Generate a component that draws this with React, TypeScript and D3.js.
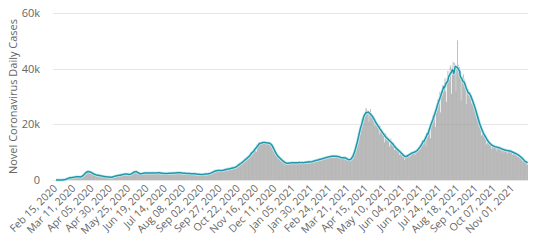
import React from "react";
import * as d3 from "d3";

// ---- tick labels ----
const yTickValues = [0, 20, 40, 60]; // thousands
const yTickLabels = ["0", "20k", "40k", "60k"];
const xTickLabels = [
  "Feb 15, 2020", "Mar 11, 2020", "Apr 05, 2020", "Apr 30, 2020", "May 25, 2020",
  "Jun 19, 2020", "Jul 14, 2020", "Aug 08, 2020", "Sep 02, 2020", "Sep 27, 2020",
  "Oct 22, 2020", "Nov 16, 2020", "Dec 11, 2020", "Jan 05, 2021", "Jan 30, 2021",
  "Feb 24, 2021", "Mar 21, 2021", "Apr 15, 2021", "May 10, 2021", "Jun 04, 2021",
  "Jun 29, 2021", "Jul 24, 2021", "Aug 18, 2021", "Sep 12, 2021", "Oct 07, 2021",
  "Nov 01, 2021",
];

// ---- daily cases (thousands), one array per month ----
const casesFeb2020 = [0, 0, 0, 0, 0.002, 0.003, 0.013, 0.01, 0.015, 0.018, 0.034, 0.044, 0.106, 0.143, 0.205];
const casesMar2020 = [0.39, 0.52, 0.84, 0.59, 0.59, 1.23, 1.08, 0.74, 0.6, 0.88, 0.96, 1.08, 1.29, 1.37, 1.21, 1.05, 1.18, 1.19, 1.05, 1.24, 0.97, 1.03, 1.41, 1.76, 2.21, 2.39, 2.93, 3.08, 2.9, 3.19, 3.11];
const casesApr2020 = [2.99, 2.88, 2.72, 2.56, 2.48, 2.27, 2.09, 2.0, 1.63, 1.97, 1.84, 1.66, 1.62, 1.57, 1.51, 1.61, 1.5, 1.37, 1.34, 1.29, 1.3, 1.19, 1.03, 1.17, 1.13, 1.15, 0.99, 1.11, 1.07, 0.99];
const casesMay2020 = [1.01, 0.8, 0.98, 1.22, 1.32, 1.68, 1.49, 1.56, 1.53, 1.38, 1.68, 1.48, 2.29, 1.81, 1.76, 1.81, 1.84, 2.01, 2.11, 2.35, 2.39, 2.1, 2.18, 1.87, 1.79, 1.82, 2.08, 1.97, 2.28, 2.82, 2.52];
const casesJun2020 = [2.98, 3.12, 3.13, 3.57, 2.89, 2.6, 2.36, 2.1, 2.01, 2.18, 2.24, 2.37, 2.41, 2.47, 2.45, 2.61, 2.56, 2.6, 2.62, 2.32, 2.37, 2.57, 2.53, 2.45, 2.6, 2.63, 2.49, 2.54, 2.46, 2.49];
const casesJul2020 = [2.5, 2.6, 2.6, 2.6, 2.6, 2.6, 2.6, 2.7, 2.2, 2.4, 2.3, 2.2, 2.3, 2.5, 2.5, 2.4, 2.4, 2.2, 2.2, 2.4, 2.6, 2.6, 2.6, 2.3, 2.3, 2.4, 2.5, 2.7, 2.6, 2.7, 2.6];
const casesAug2020 = [2.7, 2.5, 2.5, 2.6, 2.7, 2.6, 2.5, 2.3, 2.4, 2.0, 2.4, 2.5, 2.6, 2.3, 2.1, 2.2, 2.1, 2.4, 2.4, 2.4, 2.4, 2.1, 2.1, 2.0, 2.3, 2.3, 2.1, 2.0, 1.9, 1.9, 2.1];
const casesSep2020 = [2.0, 1.8, 1.9, 2.2, 2.0, 2.1, 2.1, 2.3, 2.4, 2.1, 2.1, 2.1, 2.3, 2.5, 2.6, 2.9, 3.0, 3.1, 3.0, 3.1, 3.3, 3.5, 3.7, 3.7, 3.2, 3.4, 3.2, 3.2, 3.3, 3.7];
const casesOct2020 = [3.5, 3.7, 3.5, 3.5, 3.8, 3.9, 4.0, 4.4, 4.1, 3.9, 3.6, 4.0, 4.2, 4.8, 4.8, 4.5, 4.2, 4.3, 4.3, 5.0, 5.6, 5.6, 6.1, 5.7, 5.6, 6.0, 6.2, 6.8, 7.0, 7.8, 6.9];
const casesNov2020 = [7.1, 7.7, 8.0, 8.1, 8.9, 8.9, 9.2, 8.6, 9.2, 10.7, 11.2, 10.7, 10.5, 11.2, 10.1, 12.9, 12.6, 13.4, 13.0, 13.1, 13.1, 13.1, 13.5, 13.6, 13.7, 13.4, 13.8, 13.3, 13.3, 13.0];
const casesDec2020 = [13.4, 13.2, 13.3, 13.5, 13.1, 12.8, 12.4, 11.8, 11.0, 10.5, 10.0, 9.4, 9.0, 8.6, 8.3, 8.1, 7.9, 7.6, 7.5, 7.3, 7.0, 6.6, 6.4, 6.2, 6.1, 6.0, 5.8, 5.9, 6.1, 6.2, 6.1];
const casesJan2021 = [6.3, 6.1, 5.9, 6.2, 6.3, 6.3, 6.2, 6.1, 6.0, 6.2, 6.4, 6.3, 6.2, 6.4, 6.3, 6.1, 6.0, 6.3, 6.4, 6.3, 6.2, 6.1, 6.5, 6.6, 6.4, 6.5, 6.4, 6.6, 6.7, 6.5, 6.3];
const casesFeb2021 = [6.6, 6.9, 7.0, 7.2, 7.1, 6.9, 7.2, 7.1, 7.3, 7.5, 7.6, 7.8, 7.4, 7.3, 7.7, 7.9, 8.1, 8.4, 8.2, 8.0, 7.7, 8.3, 8.4, 8.5, 8.9, 8.7, 8.4, 8.1];
const casesMar2021 = [8.5, 8.6, 8.8, 8.4, 8.7, 8.6, 8.2, 8.1, 8.5, 8.4, 8.0, 8.0, 7.7, 7.6, 7.9, 8.4, 8.5, 7.8, 7.6, 7.3, 6.9, 7.0, 7.4, 7.1, 7.6, 7.9, 8.2, 8.9, 9.6, 10.2, 11.5];
const casesApr2021 = [12.6, 13.9, 14.7, 15.8, 16.2, 18.0, 19.7, 20.9, 22.0, 21.1, 21.4, 23.6, 24.8, 25.9, 25.3, 24.1, 24.7, 21.0, 24.4, 25.5, 24.0, 23.5, 23.2, 21.8, 19.4, 22.1, 21.8, 20.9, 20.5, 19.2];
const casesMay2021 = [19.0, 16.4, 19.5, 19.2, 18.0, 17.4, 16.8, 16.3, 13.5, 16.7, 16.8, 15.9, 14.8, 14.5, 14.2, 12.0, 14.6, 14.9, 13.8, 13.4, 12.6, 12.1, 10.8, 12.4, 12.0, 11.5, 11.1, 10.8, 10.2, 9.0, 10.6];
const casesJun2021 = [10.3, 9.8, 9.3, 8.9, 8.6, 7.2, 8.4, 8.9, 8.5, 8.7, 9.0, 9.4, 8.1, 9.8, 10.0, 9.7, 9.9, 10.1, 10.4, 8.8, 10.2, 10.6, 10.9, 11.2, 11.0, 11.6, 10.9, 12.5, 12.8, 13.4];
const casesJul2021 = [13.9, 14.3, 14.6, 15.8, 12.1, 16.0, 17.4, 17.6, 18.2, 19.6, 15.0, 20.3, 21.0, 23.1, 22.8, 23.2, 24.9, 19.1, 26.0, 27.1, 28.9, 28.4, 29.0, 31.7, 24.3, 31.2, 32.0, 34.1, 34.0, 34.8, 36.6];
const casesAug2021 = [31.8, 28.0, 36.8, 39.2, 38.0, 36.1, 40.5, 41.2, 31.0, 40.3, 42.5, 39.8, 42.1, 39.4, 32.0, 40.0, 50.2, 41.4, 39.0, 40.6, 36.8, 28.5, 37.1, 37.2, 38.0, 36.4, 35.8, 34.9, 27.2, 33.1, 31.5];
const casesSep2021 = [32.5, 31.8, 31.5, 30.8, 27.5, 29.6, 28.4, 28.0, 27.2, 26.4, 25.6, 22.5, 23.4, 22.6, 21.6, 20.8, 20.1, 19.4, 16.0, 18.2, 17.4, 16.9, 16.4, 15.9, 15.3, 12.8, 14.8, 14.2, 13.8, 13.4];
const casesOct2021 = [13.1, 12.8, 11.0, 12.7, 12.4, 12.2, 12.5, 12.1, 11.9, 10.3, 12.0, 11.8, 12.1, 11.6, 11.7, 11.3, 9.8, 11.4, 11.1, 10.9, 11.2, 10.8, 10.7, 9.4, 10.6, 10.9, 10.7, 10.5, 10.8, 10.3, 9.0];
const casesNov2021 = [10.0, 9.9, 10.1, 9.7, 9.6, 9.8, 8.3, 9.1, 8.9, 8.7, 8.8, 8.5, 8.1, 6.9, 7.5, 7.3, 7.0, 6.7, 6.4, 6.1, 5.5];

const monthStarts = [
  "2020-02-15", "2020-03-01", "2020-04-01", "2020-05-01", "2020-06-01", "2020-07-01",
  "2020-08-01", "2020-09-01", "2020-10-01", "2020-11-01", "2020-12-01", "2021-01-01",
  "2021-02-01", "2021-03-01", "2021-04-01", "2021-05-01", "2021-06-01", "2021-07-01",
  "2021-08-01", "2021-09-01", "2021-10-01", "2021-11-01",
];
const monthValues = [
  casesFeb2020, casesMar2020, casesApr2020, casesMay2020, casesJun2020, casesJul2020,
  casesAug2020, casesSep2020, casesOct2020, casesNov2020, casesDec2020, casesJan2021,
  casesFeb2021, casesMar2021, casesApr2021, casesMay2021, casesJun2021, casesJul2021,
  casesAug2021, casesSep2021, casesOct2021, casesNov2021,
];

const W = 535;
const H = 250;
const plotLeft = 53;
const plotRight = 528;
const plotTop = 13;
const plotBottom = 180;

const parseDay = d3.utcParse("%Y-%m-%d");
const parseTick = d3.utcParse("%b %d, %Y");

export default function App() {
  const daily: { date: Date; v: number }[] = [];
  monthStarts.forEach((s, mi) => {
    const start = parseDay(s) as Date;
    monthValues[mi].forEach((v, i) => {
      daily.push({ date: d3.utcDay.offset(start, i), v });
    });
  });
  daily.sort((a, b) => +a.date - +b.date);

  // centered 7-day average
  const avg = daily.map((d, i) => {
    const win = daily.slice(Math.max(0, i - 3), Math.min(daily.length, i + 4));
    return { date: d.date, v: d3.mean(win, (w) => w.v) as number };
  });

  const tickDates = xTickLabels.map((t) => parseTick(t) as Date);
  const x = d3
    .scaleUtc()
    .domain([tickDates[0], tickDates[tickDates.length - 1]])
    .range([56, 513]);
  const y = d3.scaleLinear().domain([0, 60]).range([plotBottom, plotTop]);

  const step = x(d3.utcDay.offset(tickDates[0], 1)) - x(tickDates[0]);
  const barW = step * 0.85;

  const line = d3
    .line<{ date: Date; v: number }>()
    .x((d) => x(d.date))
    .y((d) => y(d.v))
    .curve(d3.curveMonotoneX);
  const pathD = line(avg) || "";

  const font = "'Open Sans', 'DejaVu Sans', sans-serif";

  return (
    <svg
      width={W}
      height={H}
      style={{ position: "absolute", left: 0, top: 0, background: "#fff" }}
      fontFamily={font}
    >
      {/* gridlines */}
      {yTickValues.map((t) => (
        <line
          key={t}
          x1={plotLeft}
          x2={plotRight}
          y1={Math.round(y(t)) + 0.5}
          y2={Math.round(y(t)) + 0.5}
          stroke="#e6e6e6"
          strokeWidth={1}
        />
      ))}
      {/* y tick labels */}
      {yTickValues.map((t, i) => (
        <text
          key={t}
          x={40}
          y={y(t)}
          dy="0.35em"
          textAnchor="end"
          fontSize={11}
          fill="#666"
        >
          {yTickLabels[i]}
        </text>
      ))}
      {/* y title */}
      <text
        transform={`translate(17,${(plotTop + plotBottom) / 2}) rotate(-90)`}
        textAnchor="middle"
        fontSize={11}
        fill="#666"
      >
        Novel Coronavirus Daily Cases
      </text>
      {/* bars */}
      <g fill="#9c9c9c">
        {daily.map((d, i) => (
          <rect
            key={i}
            x={x(d.date) - barW / 2}
            y={y(d.v)}
            width={barW}
            height={Math.max(0, plotBottom - y(d.v))}
          />
        ))}
      </g>
      {/* average line */}
      <path d={pathD} fill="none" stroke="#c6edf2" strokeWidth={3} strokeLinejoin="round" />
      <path d={pathD} fill="none" stroke="#2396aa" strokeWidth={1.5} strokeLinejoin="round" />
      {/* x tick labels */}
      {tickDates.map((d, i) => (
        <text
          key={i}
          transform={`translate(${x(d) + 2},${plotBottom + 9}) rotate(-45)`}
          textAnchor="end"
          fontSize={10.5}
          fill="#666"
        >
          {xTickLabels[i]}
        </text>
      ))}
    </svg>
  );
}
